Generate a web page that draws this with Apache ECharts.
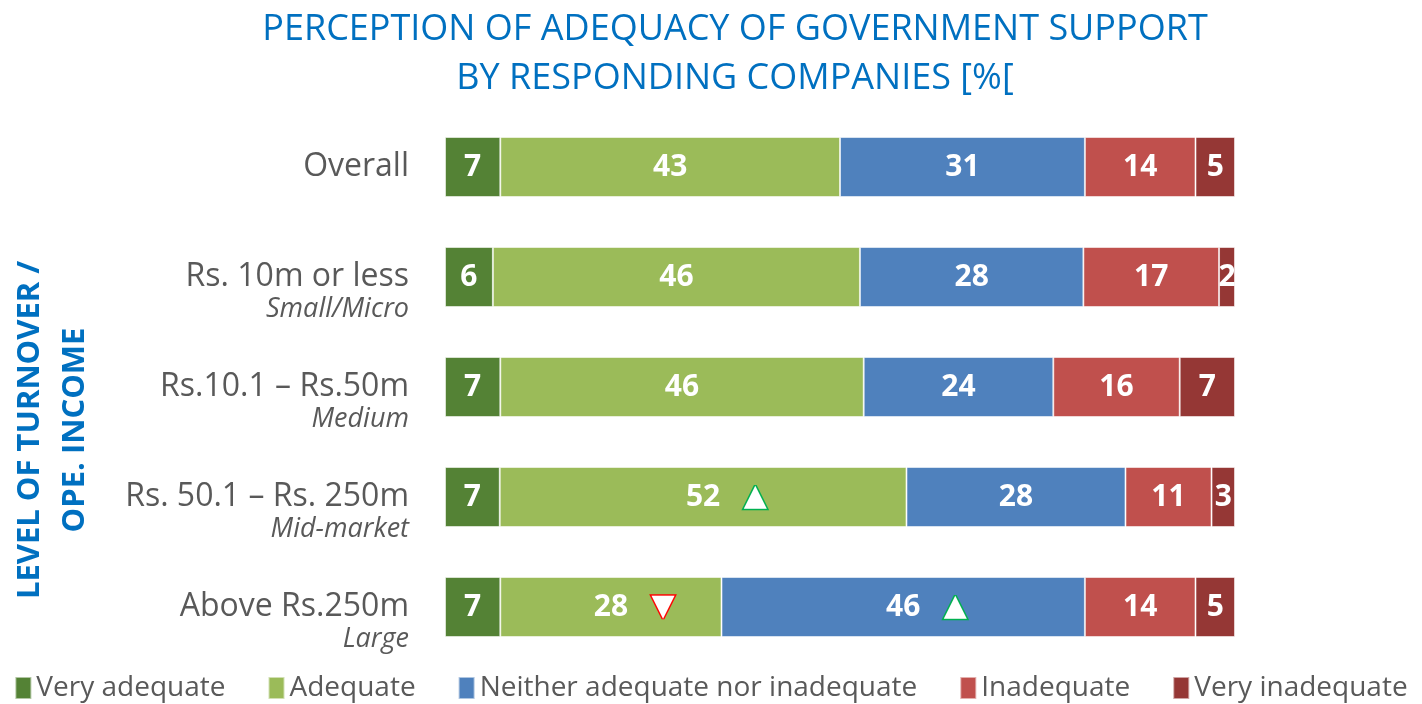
<!DOCTYPE html>
<html>
<head>
<meta charset="utf-8">
<script src="https://cdn.jsdelivr.net/npm/echarts@6/dist/echarts.min.js"></script>
<style>html,body{margin:0;padding:0;background:#fff}#c{width:1422px;height:704px}</style>
</head>
<body>
<div id="c"></div>
<script>
const categories = ['Overall', 'Rs. 10m or less', 'Rs.10.1 – Rs.50m', 'Rs. 50.1 – Rs. 250m', 'Above Rs.250m'];
const subLabels = ['', 'Small/Micro', 'Medium', 'Mid-market', 'Large'];
const seriesNames = ['Very adequate', 'Adequate', 'Neither adequate nor inadequate', 'Inadequate', 'Very inadequate'];
const veryAdequate = [7, 6, 7, 7, 7];
const adequate = [43, 46, 46, 52, 28];
const neither = [31, 28, 24, 28, 46];
const inadequate = [14, 17, 16, 11, 14];
const veryInadequate = [5, 2, 7, 3, 5];
// significance markers: 'up' / 'down' / ''
const adequateMarks = ['', '', '', 'up', 'down'];
const neitherMarks = ['', '', '', '', 'up'];
const emptyMarks = ['', '', '', '', ''];
const colors = ['#548235', '#9BBB59', '#4F81BD', '#C0504D', '#953735'];

const allValues = [veryAdequate, adequate, neither, inadequate, veryInadequate];
const allMarks = [emptyMarks, adequateMarks, neitherMarks, emptyMarks, emptyMarks];
const rowSums = categories.map((_, i) => allValues.reduce((s, arr) => s + arr[i], 0));

const chart = echarts.init(document.getElementById('c'));
const FONT = '"Open Sans", sans-serif';

const series = seriesNames.map((name, si) => ({
  name,
  type: 'bar',
  stack: 'total',
  barWidth: 60,
  itemStyle: { color: colors[si], borderColor: 'rgba(255,255,255,0.55)', borderWidth: 1 },
  data: allValues[si].map((v, i) => v / rowSums[i] * 100),
  label: {
    show: true,
    position: 'inside',
    formatter: p => {
      const v = allValues[si][p.dataIndex];
      const m = allMarks[si][p.dataIndex];
      if (m === 'up') return '{sp|}{v|' + v + '}{g|}{up|▲}';
      if (m === 'down') return '{sp|}{v|' + v + '}{g|}{dn|▼}';
      return '{v|' + v + '}';
    },
    rich: {
      v: { color: '#fff', fontSize: 30, fontWeight: 'bold', fontFamily: FONT },
      sp: { width: 50 },
      g: { width: 20 },
      up: { color: '#fff', fontSize: 30, fontFamily: 'DejaVu Sans', textBorderColor: '#00B050', textBorderWidth: 3, width: 30 },
      dn: { color: '#fff', fontSize: 30, fontFamily: 'DejaVu Sans', textBorderColor: '#FF0000', textBorderWidth: 3, width: 30 }
    }
  }
}));

chart.setOption({
  animation: false,
  color: colors,
  grid: { left: 445, right: 187, top: 112, bottom: 42 },
  xAxis: { type: 'value', min: 0, max: 100, show: false },
  yAxis: {
    type: 'category',
    data: categories,
    inverse: true,
    axisLine: { show: false },
    axisTick: { show: false },
    axisLabel: {
      margin: 36,
      formatter: (val, idx) => {
        const sub = subLabels[idx];
        if (!sub) return '{a|' + val + '}';
        return '{e|}\n{a|' + val + '}\n{b|' + sub + '}';
      },
      rich: {
        a: { fontSize: 32, color: '#595959', fontFamily: FONT, height: 38, align: 'right' },
        b: { fontSize: 27, color: '#595959', fontStyle: 'italic', fontFamily: FONT, height: 26, align: 'right' },
        e: { height: 26 }
      }
    }
  },
  legend: {
    bottom: -3,
    left: 'center',
    itemWidth: 16,
    itemHeight: 22,
    itemGap: 42,
    icon: 'rect',
    textStyle: { fontSize: 28, color: '#595959', fontFamily: FONT },
    data: seriesNames
  },
  graphic: [
    { type: 'text', x: 735, y: 30, style: { text: 'PERCEPTION OF ADEQUACY OF GOVERNMENT SUPPORT', fill: '#0070C0', fontSize: 36, fontFamily: FONT, textAlign: 'center', textVerticalAlign: 'middle' } },
    { type: 'text', x: 735, y: 79, style: { text: 'BY RESPONDING COMPANIES [%[', fill: '#0070C0', fontSize: 36, fontFamily: FONT, textAlign: 'center', textVerticalAlign: 'middle' } },
    { type: 'text', x: 53, y: 430, rotation: Math.PI / 2, style: { text: 'LEVEL OF TURNOVER /\nOPE. INCOME', fill: '#0070C0', fontSize: 31, fontWeight: 'bold', fontFamily: FONT, textAlign: 'center', textVerticalAlign: 'middle', lineHeight: 45 } }
  ],
  series
});
</script>
</body>
</html>
